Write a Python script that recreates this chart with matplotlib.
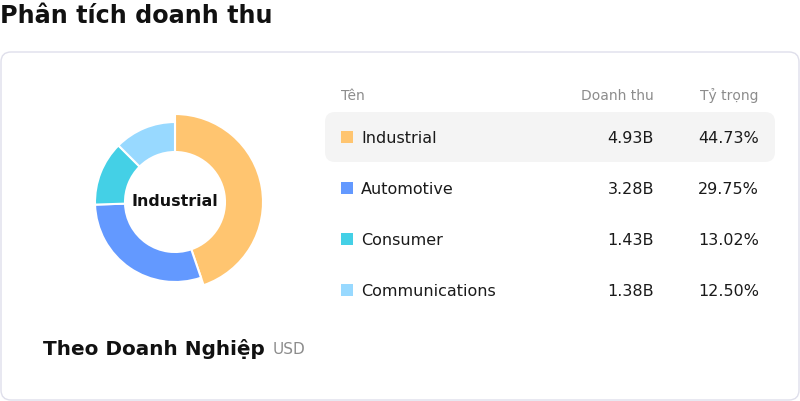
import matplotlib.pyplot as plt
from matplotlib.patches import FancyBboxPatch, Rectangle

# Dữ liệu
names = ["Industrial", "Automotive", "Consumer", "Communications"]
revenue = [4.93, 3.28, 1.43, 1.38]          # tỷ USD
shares = [44.73, 29.75, 13.02, 12.50]       # %
colors = ["#FFC570", "#6399FF", "#44D0E6", "#98D9FF"]
highlight = 0  # dòng đang được chọn

W, H = 800, 402
fig = plt.figure(figsize=(W / 100, H / 100), dpi=100)
ax = fig.add_axes([0, 0, 1, 1])

# Vòng donut (trục y đảo nên counterclock=True cho chiều kim đồng hồ)
wedges, _ = ax.pie(shares, colors=colors, startangle=-90, counterclock=True,
                   center=(175, 203), radius=80,
                   wedgeprops=dict(width=30, edgecolor="white", linewidth=1.5))
wedges[highlight].set_radius(88)
wedges[highlight].set_width(38)
ax.text(175, 202, names[highlight], ha="center", va="center",
        fontsize=11.4, fontweight="bold", color="#111111")

ax.set_xlim(0, W)
ax.set_ylim(H, 0)
ax.set_aspect("auto")
ax.axis("off")

# Khung thẻ
card = FancyBboxPatch((1, 53), W - 2, H - 54, boxstyle="round,pad=0,rounding_size=10",
                      fc="white", ec="#dfdfeb", lw=1, zorder=0)
ax.add_patch(card)

fig.text(0, 1 - 16 / H, "Phân tích doanh thu", ha="left", va="center",
         fontsize=17.2, fontweight="bold", color="#111111")

# Bảng
ax.text(341, 96, "Tên", ha="left", va="center", fontsize=10, color="#8c8c8c")
ax.text(654, 96, "Doanh thu", ha="right", va="center", fontsize=10, color="#8c8c8c")
ax.text(759, 96, "Tỷ trọng", ha="right", va="center", fontsize=10, color="#8c8c8c")

for i, (n, r, s, c) in enumerate(zip(names, revenue, shares, colors)):
    y = 138 + i * 51
    if i == highlight:
        ax.add_patch(FancyBboxPatch((325, y - 25), 450, 50,
                                    boxstyle="round,pad=0,rounding_size=10",
                                    fc="#f4f4f4", ec="none", zorder=1))
    ax.add_patch(Rectangle((341, y - 6), 12, 12, fc=c, ec="none", zorder=2))
    ax.text(361, y + 1, n, ha="left", va="center", fontsize=11.5, color="#1a1a1a", zorder=3)
    ax.text(654, y + 1, f"{r:.2f}B", ha="right", va="center", fontsize=11.5,
            color="#1a1a1a", zorder=3)
    ax.text(759, y + 1, f"{s:.2f}%", ha="right", va="center", fontsize=11.5,
            color="#1a1a1a", zorder=3)

ax.text(43, 349, "Theo Doanh Nghiệp", ha="left", va="center",
        fontsize=14.4, fontweight="bold", color="#111111")
ax.text(273, 350, "USD", ha="left", va="center", fontsize=11, color="#8c8c8c")

fig.savefig("out.png", dpi=100)
